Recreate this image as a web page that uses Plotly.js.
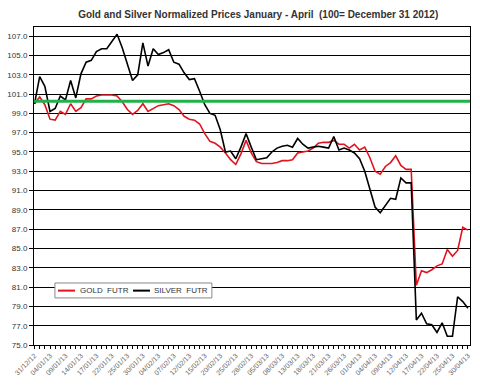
<!DOCTYPE html>
<html>
<head>
<meta charset="utf-8">
<script src="https://cdn.plot.ly/plotly-3.0.1.min.js"></script>
<style>html,body{margin:0;padding:0;background:#fff;}#chart{width:480px;height:385px;}</style>
</head>
<body>
<div id="chart"></div>
<script>
const dates = [
 "31/12/12",
 "02/01/13","03/01/13","04/01/13","07/01/13","08/01/13","09/01/13","10/01/13","11/01/13","14/01/13","15/01/13","16/01/13","17/01/13","18/01/13","21/01/13","22/01/13","23/01/13","24/01/13","25/01/13","28/01/13","29/01/13","30/01/13","31/01/13",
 "01/02/13","04/02/13","05/02/13","06/02/13","07/02/13","08/02/13","11/02/13","12/02/13","13/02/13","14/02/13","15/02/13","18/02/13","19/02/13","20/02/13","21/02/13","22/02/13","25/02/13","26/02/13","27/02/13","28/02/13",
 "01/03/13","04/03/13","05/03/13","06/03/13","07/03/13","08/03/13","11/03/13","12/03/13","13/03/13","14/03/13","15/03/13","18/03/13","19/03/13","20/03/13","21/03/13","22/03/13","25/03/13","26/03/13","27/03/13","28/03/13",
 "01/04/13","02/04/13","03/04/13","04/04/13","05/04/13","08/04/13","09/04/13","10/04/13","11/04/13","12/04/13","15/04/13","16/04/13","17/04/13","18/04/13","19/04/13","22/04/13","23/04/13","24/04/13","25/04/13","26/04/13","29/04/13","30/04/13"
];
const gold = [
 100.0,100.7,99.9,98.4,98.3,99.2,98.9,100.0,99.2,99.6,
 100.5,100.5,100.8,100.9,100.9,100.9,100.8,100.2,99.4,98.9,
 99.3,100.0,99.2,99.5,99.8,99.9,100.0,99.8,99.4,98.7,
 98.4,98.3,97.9,96.9,96.1,95.9,95.5,94.9,94.2,93.7,
 94.8,96.2,94.9,94.0,93.8,93.8,93.8,93.9,94.1,94.1,
 94.2,94.9,95.0,95.1,95.4,95.9,96.0,96.0,96.2,95.8,
 95.8,95.4,95.8,95.2,95.5,94.4,93.0,92.7,93.5,93.9,
 94.6,93.6,93.2,93.2,81.2,82.7,82.5,82.8,83.2,83.4,
 84.9,84.2,84.8,87.2,86.9
];
const silver = [
 100.0,102.8,101.8,99.2,99.5,100.8,100.4,102.4,100.6,103.1,
 104.3,104.5,105.4,105.7,105.7,106.4,107.2,105.8,104.2,102.4,
 103.0,106.3,103.9,105.7,105.1,105.3,105.6,104.3,104.1,103.2,
 102.5,102.6,101.3,99.9,99.0,98.8,97.3,95.0,95.1,94.3,
 95.5,96.9,95.5,94.2,94.3,94.4,95.0,95.4,95.6,95.7,
 95.5,96.4,95.8,95.4,95.5,95.6,95.5,95.4,96.6,95.2,
 95.4,95.2,94.9,94.3,93.0,91.2,89.3,88.7,89.5,90.2,
 90.1,92.3,91.8,91.8,77.6,78.3,77.2,77.1,76.3,77.3,
 75.9,75.9,80.0,79.5,78.8
];
const baseLevel = 100.25;
const seriesNames = ["GOLD  FUTR", "SILVER  FUTR"];
const seriesColors = ["#e0141e", "#000000"];
const yTicks = [75,77,79,81,83,85,87,89,91,93,95,97,99,101,103,105,107];
const tickText = dates.map((d, i) => (i % 3 === 0 ? d : ""));

const traces = [
  {x: dates, y: gold, type: "scatter", mode: "lines", name: seriesNames[0],
   line: {color: seriesColors[0], width: 1.6}},
  {x: dates, y: silver, type: "scatter", mode: "lines", name: seriesNames[1],
   line: {color: seriesColors[1], width: 1.6}}
];

// legend box drawn in paper coordinates
const legY = 0.171;
const legendShapes = [
  {type: "rect", xref: "paper", yref: "paper", x0: 0.048, x1: 0.408, y0: 0.148, y1: 0.195,
   fillcolor: "#fff", line: {color: "#888", width: 1}, layer: "above"},
  {type: "line", xref: "paper", yref: "paper", x0: 0.055, x1: 0.094, y0: legY, y1: legY,
   line: {color: seriesColors[0], width: 2}, layer: "above"},
  {type: "line", xref: "paper", yref: "paper", x0: 0.227, x1: 0.266, y0: legY, y1: legY,
   line: {color: seriesColors[1], width: 2}, layer: "above"}
];
const legendAnn = [
  {xref: "paper", yref: "paper", x: 0.100, y: legY, xanchor: "left", yanchor: "middle",
   text: seriesNames[0], showarrow: false, font: {size: 8, color: "#333"}},
  {xref: "paper", yref: "paper", x: 0.271, y: legY, xanchor: "left", yanchor: "middle",
   text: seriesNames[1], showarrow: false, font: {size: 8, color: "#333"}}
];

const layout = {
  width: 480, height: 385,
  margin: {l: 34, r: 10, t: 27, b: 40},
  paper_bgcolor: "#fff", plot_bgcolor: "#fff",
  font: {family: "Liberation Sans, Arial, sans-serif", color: "#333"},
  title: {text: "<b>Gold and Silver Normalized Prices January - April  (100= December 31 2012)</b>",
          x: 0.538, xanchor: "center", y: 0.962, yanchor: "middle",
          font: {size: 10, color: "#333"}},
  showlegend: false,
  xaxis: {type: "category", range: [-0.1, 84.4],
          tickmode: "array", tickvals: dates, ticktext: tickText,
          tickangle: -45, tickfont: {size: 7, color: "#666"},
          ticks: "outside", ticklen: 3, tickcolor: "#000",
          showgrid: false, showline: true, linecolor: "#000", linewidth: 1, mirror: true,
          zeroline: false, fixedrange: true},
  yaxis: {range: [75, 107.95], tickmode: "array", tickvals: yTicks,
          ticktext: yTicks.map(v => v.toFixed(1)),
          tickfont: {size: 8, color: "#333"},
          ticks: "outside", ticklen: 4, tickcolor: "#000",
          showgrid: true, gridcolor: "#000", gridwidth: 1,
          showline: true, linecolor: "#000", linewidth: 1, mirror: true,
          zeroline: false, fixedrange: true},
  shapes: [{type: "line", xref: "paper", yref: "y", x0: 0, x1: 1, y0: baseLevel, y1: baseLevel,
            line: {color: "#22b04a", width: 3}}].concat(legendShapes),
  annotations: legendAnn
};

Plotly.newPlot("chart", traces, layout, {displayModeBar: false, staticPlot: true});
</script>
</body>
</html>
